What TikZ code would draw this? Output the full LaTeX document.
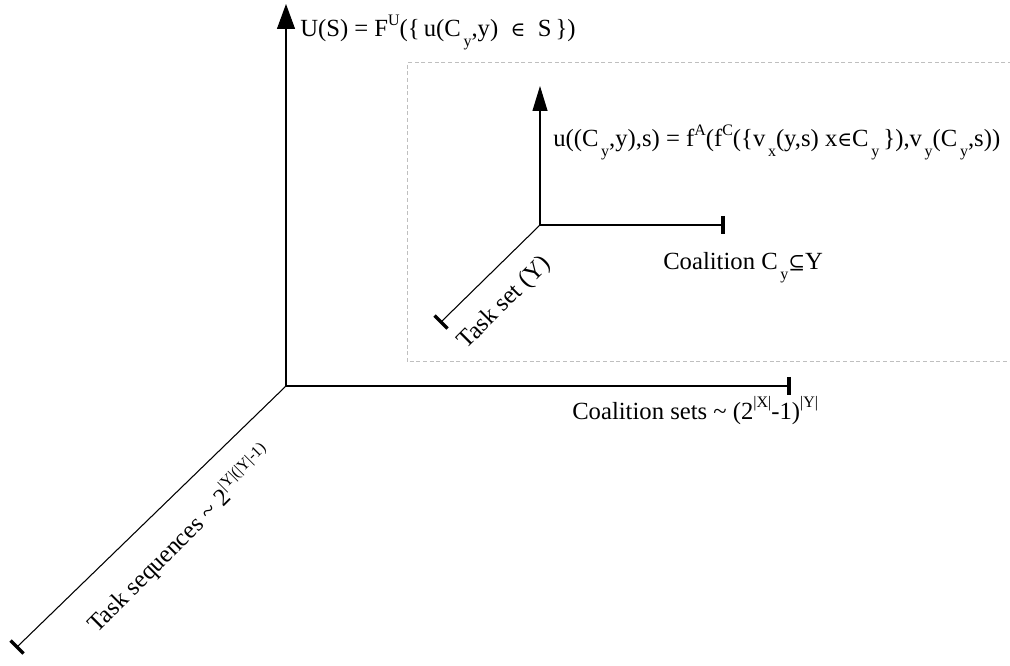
\documentclass[tikz,border=0pt]{standalone}
\usepackage{fontspec}
\setmainfont{Liberation Serif}
\newfontfamily\symf{DejaVu Serif}
\usetikzlibrary{arrows.meta,calc}
\newcommand\sbs[1]{\raisebox{-0.4em}{\fontsize{12}{12}\selectfont #1}}
\newcommand\sps[1]{\raisebox{0.45em}{\fontsize{12}{12}\selectfont #1}}
\newcommand\smb[1]{{\symf\fontsize{15}{15}\selectfont #1}}
\begin{document}
\begin{tikzpicture}[x=0.75pt,y=-0.75pt,
  axis/.style={line width=0.8pt,black},
  tick/.style={line width=2.4pt,black},
  bigarrow/.style={-{Triangle[length=18.75pt,width=13.5pt,fill=black]}},
  smallarrow/.style={-{Triangle[length=18.75pt,width=11.25pt,fill=black]}},
  lbl/.style={inner sep=0pt,font=\fontsize{18.5}{22}\selectfont},
  dashbox/.style={line width=0.75pt,gray!50,dash pattern=on 3pt off 2pt}]
\useasboundingbox (0,0) rectangle (1010,666);
% dashed frame (open on the right)
\coordinate (b1) at (1012,63);
\coordinate (b2) at (407,63);
\coordinate (b3) at (407,362);
\coordinate (b4) at (1012,362);
\draw[dashbox] (b1) -- (b2) -- (b3) -- (b4);
% main axes
\coordinate (O) at (286,386);
\coordinate (Otop) at (286,4);
\coordinate (Oright) at (789,386);
\coordinate (Odiag) at (17,647);
\draw[axis,bigarrow] (O) -- (Otop);
\draw[axis] (O) -- (Oright);
\draw[axis] (O) -- (Odiag);
\draw[tick] ($(Oright)+(0,-9)$) -- ($(Oright)+(0,9)$);
\draw[tick] ($(Odiag)+(-6.5,-6.5)$) -- ($(Odiag)+(6.5,6.5)$);
% inner axes
\coordinate (I) at (540,225);
\coordinate (Itop) at (540,86);
\coordinate (Iright) at (723,225);
\coordinate (Idiag) at (441,322);
\draw[axis,smallarrow] (I) -- (Itop);
\draw[axis] (I) -- (Iright);
\draw[axis] (I) -- (Idiag);
\draw[tick] ($(Iright)+(0,-9)$) -- ($(Iright)+(0,9)$);
\draw[tick] ($(Idiag)+(-6.5,-6.5)$) -- ($(Idiag)+(6.5,6.5)$);
% labels
\node[lbl,anchor=base west] (lU) at (300,37) {U(S) = F\sps{U}(\{\,u(C\sbs{\,y},y)\enspace\smb{∈}\enspace S\,\})};
\node[lbl,anchor=base west] (lu) at (553,147) {u((C\sbs{\,y},y),s) = f\sps{A}(f\sps{C}(\{v\sbs{\,x}(y,s) x\smb{∈}C\sbs{\,y}\,\}),v\sbs{\,y}(C\sbs{\,y},s))};
\node[lbl,anchor=base west] (lC) at (663,270) {Coalition C\sbs{\,y}\smb{⊆}Y};
\node[lbl,anchor=base west] (lCS) at (572,419) {Coalition sets \textasciitilde{} (2\sps{|X|}-1)\sps{|Y|}};
\node[lbl,rotate=45] (lT) at (505,303) {Task set (Y)};
\node[lbl,rotate=45] (lTS) at (180,539) {Task sequences \textasciitilde{} 2\sps{|Y|(|Y|-1)}};
\end{tikzpicture}
\end{document}
